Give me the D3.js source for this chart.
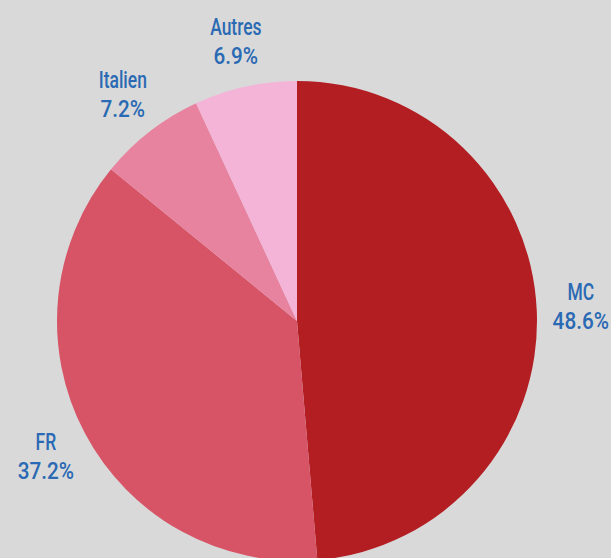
<!DOCTYPE html>
<html><head><meta charset="utf-8">
<script src="https://cdn.jsdelivr.net/npm/d3@7"></script>
<style>html,body{margin:0;padding:0;background:#d9d9d9;}svg{display:block;}</style>
</head><body>
<svg id="c" width="611" height="558"></svg>
<script>
const categories = ["MC", "FR", "Italien", "Autres"];
const values = [48.6, 37.2, 7.2, 6.9];
const labels = ["48.6%", "37.2%", "7.2%", "6.9%"];
const colors = ["#b31e22", "#d75467", "#e8839f", "#f4b4d8"];

const svg = d3.select("#c");
const W = 611, H = 558, cx = 297, cy = 321, R = 240, RL = 284;
svg.append("rect").attr("width", W).attr("height", H).attr("fill", "#d9d9d9");
const data = categories.map((c, i) => ({c, v: values[i], l: labels[i], col: colors[i]}));
const pie = d3.pie().value(d => d.v).sort(null);
const arcs = pie(data);
const arc = d3.arc().innerRadius(0).outerRadius(R);
const labArc = d3.arc().innerRadius(RL).outerRadius(RL);
const g = svg.append("g").attr("transform", `translate(${cx},${cy})`);
g.selectAll("path").data(arcs).join("path").attr("d", arc).attr("fill", d => d.data.col);
const lg = g.selectAll("g.lab").data(arcs).join("g").attr("class", "lab")
  .attr("transform", d => { const [x, y] = labArc.centroid(d); return `translate(${x},${y + (y > 0 ? 3 : -2)})`; });
function txt(sel, sx, y, f) {
  sel.append("text")
    .attr("transform", `translate(0,${y}) scale(${sx},1)`)
    .attr("text-anchor", "middle")
    .attr("fill", "#2a69b3")
    .style("font-family", "Roboto, sans-serif")
    .style("font-weight", "500")
    .style("font-size", "23px")
    .text(f);
}
txt(lg, 0.76, -7, d => d.data.c);
txt(lg, 0.9, 22, d => d.data.l);
</script>
</body></html>
